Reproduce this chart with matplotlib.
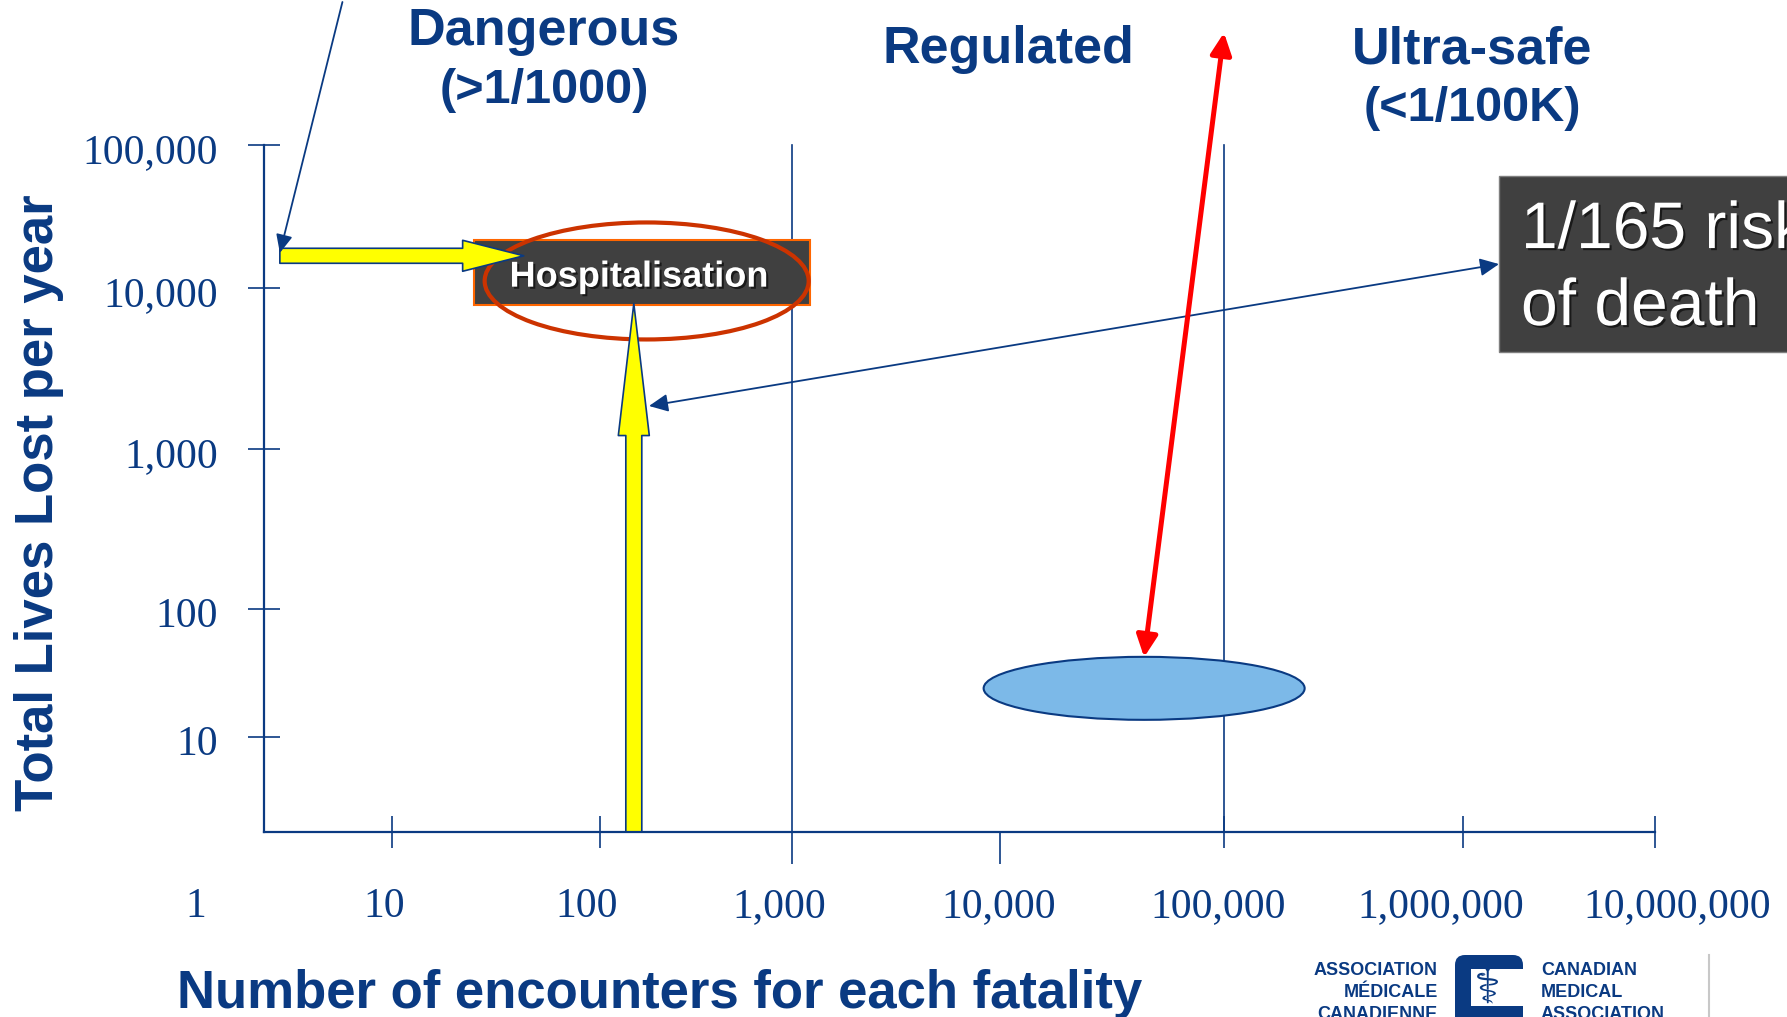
#!/usr/bin/env python3
"""
Risk ladder slide: total lives lost per year vs encounters for each fatality
"""

import numpy as np
import matplotlib
matplotlib.use('Agg')
import matplotlib.pyplot as plt
from matplotlib import patches, patheffects
from matplotlib.transforms import Affine2D, offset_copy

# ---- data ---------------------------------------------------------------
x_ticks = [1, 10, 100, 1000, 10000, 100000, 1000000, 10000000]
x_tick_labels = ['1', '10', '100', '1,000', '10,000', '100,000',
                 '1,000,000', '10,000,000']
y_ticks = [1, 10, 100, 1000, 10000, 100000]
y_tick_labels = ['', '10', '100', '1,000', '10,000', '100,000']

zone_bounds = [1000, 100000]
zone_names = [['Dangerous', '(>1/1000)'], ['Regulated'], ['Ultra-safe', '(<1/100K)']]

# hospitalisation (encounters per death, lives lost per year)
hosp_xy = (165, 12800)
hosp_ring_xy = (175, 11200)
hosp_up_arrow = [(150, 1), (150, 8000)]
hosp_side_arrow = [(1.33, 16800), (43, 16800)]
pointer_in = [(4.1, 1.0e6), (1.33, 17600)]
risk_link = [(1.54e6, 14700), (180, 1850)]
risk_text = ['1/165 risk', 'of death']

# ultra-safe industries blob
safe_xy = (44000, 24)
safe_arrow = [(44000, 42), (100000, 6.1e5)]

# ---- layout / style -----------------------------------------------------
W, H = 1787, 1017
NAVY = '#0a3a82'
SANS = 'Liberation Sans'
SERIF = 'Liberation Serif'

# where the slide puts each decade (pixels from left / from top)
x_decade_px = [264, 392, 600, 792, 1000, 1224, 1463, 1655]
y_decade_px = [832, 737, 609, 449, 288, 145]
x_label_shift = [-68, -8, -13, -13, -1, -6, -22, 22]
long_ticks = [1000, 10000]


def decade_scale(values, px):
    logs = np.log10(values)
    px = np.asarray(px, float)
    s0 = (px[1] - px[0]) / (logs[1] - logs[0])
    s1 = (px[-1] - px[-2]) / (logs[-1] - logs[-2])
    L = np.r_[logs[0] - 30, logs, logs[-1] + 30]
    P = np.r_[px[0] - 30 * s0, px, px[-1] + 30 * s1]

    def fwd(v):
        v = np.log10(np.clip(np.asarray(v, float), 1e-300, None))
        return np.interp(v, L, P)

    def inv(p):
        return 10.0 ** np.interp(p, P, L)

    return fwd, inv


fx, fx_inv = decade_scale(x_ticks, x_decade_px)
fy, fy_inv = decade_scale(y_ticks, H - np.array(y_decade_px, float))

fig = plt.figure(figsize=(W / 100, H / 100), dpi=100)
ax = fig.add_axes([0, 0, 1, 1])
ax.set_xscale('function', functions=(fx, fx_inv))
ax.set_yscale('function', functions=(fy, fy_inv))
ax.set_xlim(fx_inv(0), fx_inv(W))
ax.set_ylim(fy_inv(0), fy_inv(H))
ax.axis('off')

PX = Affine2D().scale(1, -1).translate(0, H)   # slide pixels, y going down


def at(x, y):
    px, py = ax.transData.transform((x, y))
    return Affine2D().translate(px, py)


def shifted(dx, dy):
    return offset_copy(ax.transData, fig=fig, x=dx, y=dy, units='dots')


shadow = [patheffects.withSimplePatchShadow(offset=(1.5, -1.5),
                                            shadow_rgbFace='black', alpha=0.6)]

# ---- axes ---------------------------------------------------------------
x0, y0 = x_ticks[0], y_ticks[0]
ax.plot([x0, x_ticks[-1]], [y0, y0], color=NAVY, lw=1.6, zorder=8)
ax.plot([x0, x0], [y0, y_ticks[-1]], color=NAVY, lw=1.6, zorder=8)
for b in zone_bounds:
    ax.plot([b, b], [y0, y_ticks[-1]], color=NAVY, lw=1.2, zorder=2)

std = [v for v in x_ticks[1:] if v not in long_ticks]
ax.plot(std, [y0] * len(std), ls='none', marker='|', ms=22.5, mew=1.2, color=NAVY)
ax.plot(long_ticks, [y0] * len(long_ticks), ls='none', marker=3, ms=23,
        mew=1.2, color=NAVY)
ax.plot([x0] * (len(y_ticks) - 1), y_ticks[1:], ls='none', marker='_',
        ms=22.5, mew=1.2, color=NAVY)

for v, lab, dx in zip(x_ticks, x_tick_labels, x_label_shift):
    ax.text(v, y0, lab, transform=shifted(dx, -85), ha='center', va='baseline',
            fontsize=30, family=SERIF, color=NAVY)
for v, lab in zip(y_ticks, y_tick_labels):
    ax.text(x0, v, lab, transform=shifted(-46, -18), ha='right', va='baseline',
            fontsize=30, family=SERIF, color=NAVY)

ax.text(177, 1008, 'Number of encounters for each fatality', transform=PX,
        ha='left', va='baseline', fontsize=38, fontweight='bold', family=SANS,
        color=NAVY)
ax.text(53, 503, 'Total Lives Lost per year', transform=PX, rotation=90,
        rotation_mode='anchor', ha='center', va='baseline', fontsize=38,
        fontweight='bold', family=SANS, color=NAVY)

# zone headings (second line a touch smaller)
zone_pos = [(544, [45, 103]), (1008, [63]), (1472, [63, 121])]
for lines, (cx, bases) in zip(zone_names, zone_pos):
    for i, (s, by) in enumerate(zip(lines, bases)):
        ax.text(cx, by, s, transform=PX, ha='center', va='baseline',
                fontsize=37.5 if i == 0 else 35, fontweight='bold',
                family=SANS, color=NAVY)

# ---- hospitalisation ----------------------------------------------------
ax.add_patch(patches.Rectangle((-168, -32.5), 336, 65, transform=at(*hosp_xy),
                               facecolor='#404040', edgecolor='#ff6600',
                               lw=1.5, zorder=3))
ax.text(*hosp_xy, 'Hospitalisation', transform=shifted(-3, -14), ha='center',
        va='baseline', fontsize=26, fontweight='bold', family=SANS,
        color='white', zorder=4, path_effects=shadow)
ax.add_patch(patches.Ellipse((0, 0), 324, 117, transform=at(*hosp_ring_xy),
                             facecolor='none', edgecolor='#cc3300', lw=3,
                             zorder=5))

yellow = dict(facecolor='#ffff00', edgecolor=NAVY, lw=1.2, shrinkA=0,
              shrinkB=0, mutation_scale=1, zorder=6)
ax.add_patch(patches.FancyArrowPatch(
    *hosp_side_arrow,
    arrowstyle='simple,head_length=44,head_width=22.3,tail_width=10.8', **yellow))
ax.add_patch(patches.FancyArrowPatch(
    *hosp_up_arrow,
    arrowstyle='simple,head_length=95,head_width=22.3,tail_width=11.5', **yellow))

thin = dict(color=NAVY, lw=1.3, shrinkA=0, shrinkB=0, mutation_scale=1, zorder=7)
ax.add_patch(patches.FancyArrowPatch(
    *pointer_in, arrowstyle='-|>,head_length=11,head_width=5', **thin))
ax.add_patch(patches.FancyArrowPatch(
    *risk_link, arrowstyle='<|-|>,head_length=11.5,head_width=5.4', **thin))

# risk box (runs off the right edge)
ax.add_patch(patches.Rectangle((0, -88), 400, 176, transform=at(*risk_link[0]),
                               facecolor='#404040', edgecolor='#7f7f7f',
                               lw=1, zorder=3))
for s, dy in zip(risk_text, [16, -61]):
    ax.text(*risk_link[0], s, transform=shifted(22, dy), ha='left',
            va='baseline', fontsize=47.5, family=SANS, color='white', zorder=4,
            path_effects=shadow)

# ---- ultra-safe blob ----------------------------------------------------
ax.add_patch(patches.Ellipse((0, 0), 321, 63, transform=at(*safe_xy),
                             facecolor='#7cb9e8', edgecolor=NAVY, lw=1.5,
                             zorder=6))
ax.add_patch(patches.FancyArrowPatch(
    *safe_arrow, arrowstyle='<|-|>,head_length=13,head_width=6.3',
    color='#ff0000', lw=3.6, shrinkA=0, shrinkB=0, mutation_scale=1, zorder=7))

# ---- CMA logo (bottom right, cut off) ----------------------------------
logo = dict(transform=PX, fontsize=13, fontweight='bold', family=SANS,
            color=NAVY, va='baseline')
for s, by in zip(['ASSOCIATION', 'MÉDICALE', 'CANADIENNE'], [975, 997, 1019]):
    ax.text(1438, by, s, ha='right', **logo)
for s, by in zip(['CANADIAN', 'MEDICAL', 'ASSOCIATION'], [975, 997, 1019]):
    ax.text(1541, by, s, ha='left', **logo)
ax.add_patch(patches.FancyBboxPatch((1455, 955), 68, 85, transform=PX,
                                    boxstyle='round,pad=0,rounding_size=10',
                                    facecolor=NAVY, edgecolor='none'))
ax.add_patch(patches.Rectangle((1471, 969), 62, 37, transform=PX,
                               facecolor='white', edgecolor='none'))
ax.text(1487, 990, '\u2695', transform=PX, ha='center', va='center',
        fontsize=36, family='DejaVu Sans', color=NAVY)
ax.plot([1709, 1709], [955, 1017], transform=PX, color='#c8c8c8', lw=1.5)

fig.savefig('out.png', dpi=100, facecolor='white')
